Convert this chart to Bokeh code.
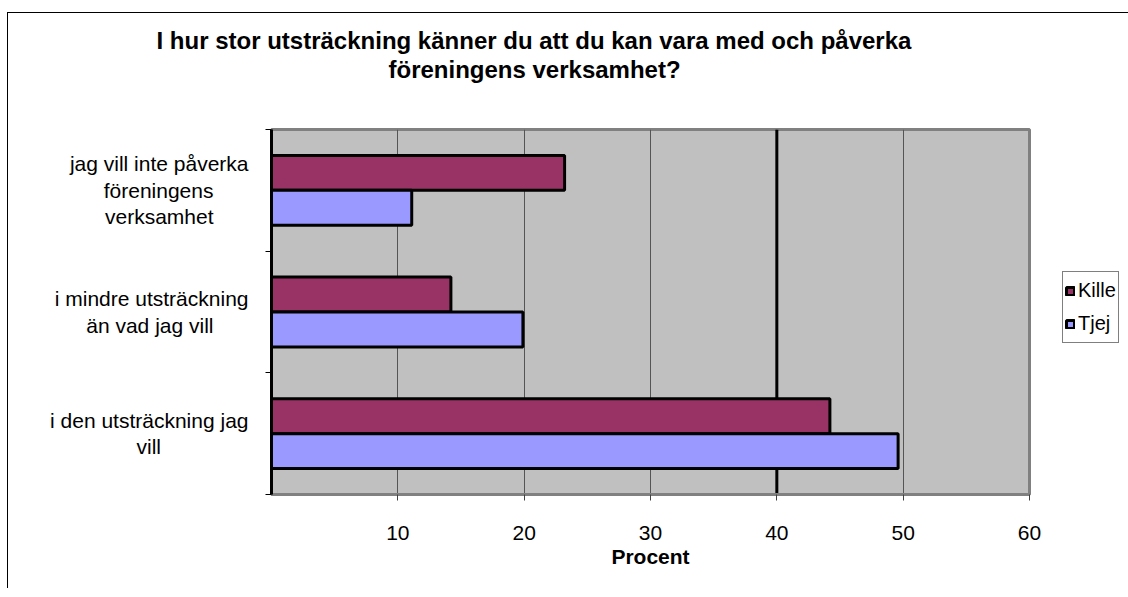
from bokeh.plotting import figure
from bokeh.models import (ColumnDataSource, Range1d, FixedTicker, Legend, LegendItem,
                          Span, Title)
from bokeh.transform import dodge
from bokeh.embed import file_html
from bokeh.resources import INLINE

# ---- data ----
categories = ["i den utsträckning jag\nvill",
              "i mindre utsträckning\nän vad jag vill",
              "jag vill inte påverka\nföreningens\nverksamhet"]
kille = [44.2, 14.2, 23.2]
tjej = [49.6, 19.9, 11.1]
series_names = ["Kille", "Tjej"]
x_ticks = [10, 20, 30, 40, 50, 60]
title_lines = ["I hur stor utsträckning känner du att du kan vara med och påverka",
               "föreningens verksamhet?"]
x_label = "Procent"

# ---- layout helpers (visual centering of multi-line tick labels) ----
NBSP = "\u00a0"
line_pads = [[0, 15], [0, 6], [0, 6, 6]]   # trailing non-breaking spaces per line


def centered(label, pads):
    return "\n".join(ln + NBSP * n for ln, n in zip(label.split("\n"), pads))


pos = [i + 0.5 for i in range(len(categories))]
src = ColumnDataSource(dict(y=pos, kille=kille, tjej=tjej))

FONT = "Liberation Sans"

p = figure(frame_width=758, frame_height=365, output_backend="svg", toolbar_location=None,
           x_range=Range1d(0, 60), y_range=Range1d(0, len(categories)),
           min_border_left=263, min_border_top=116, min_border_right=90,
           min_border_bottom=94)
# chart-area border: white gap outside, thin black line on the left and top
p.styles = {"border-left": "7px solid white", "border-top": "12px solid white",
            "padding-left": "1px", "padding-top": "1px",
            "box-shadow": "inset 1px 1px 0 0 black"}
p.background_fill_color = "#C0C0C0"
p.border_fill_color = "white"
p.outline_line_color = "#808080"
p.outline_line_width = 3

# grid
p.ygrid.grid_line_color = None
p.xgrid.ticker = FixedTicker(ticks=x_ticks)
p.xgrid.grid_line_color = "#555555"
p.xgrid.grid_line_width = 1
p.add_layout(Span(location=40, dimension="height", line_color="black", line_width=3,
                  level="underlay"))

bh = 0.287
rk = p.hbar(y=dodge("y", 0.1435, range=p.y_range), right="kille", left=0, height=bh,
            source=src, fill_color="#993366", line_color="black", line_width=3)
rt = p.hbar(y=dodge("y", -0.1435, range=p.y_range), right="tjej", left=0, height=bh,
            source=src, fill_color="#9999FF", line_color="black", line_width=3)

# x axis
xa = p.xaxis[0]
xa.ticker = FixedTicker(ticks=x_ticks)
xa.axis_line_color = "#808080"
xa.axis_line_width = 3
xa.major_tick_line_color = "#404040"
xa.major_tick_out = 6
xa.major_tick_in = 0
xa.minor_tick_line_color = None
xa.major_label_standoff = 25
xa.major_label_text_font = FONT
xa.major_label_text_font_size = "21px"
xa.major_label_text_color = "black"
xa.axis_label = x_label
xa.axis_label_text_font = FONT
xa.axis_label_text_font_size = "21px"
xa.axis_label_text_font_style = "bold"
xa.axis_label_text_color = "black"
xa.axis_label_standoff = 2

# y axis
ya = p.yaxis[0]
ya.ticker = FixedTicker(ticks=pos, minor_ticks=[0, 1, 2, 3])
ya.major_label_overrides = {v: centered(c, pd) for v, c, pd in zip(pos, categories, line_pads)}
ya.axis_line_color = "black"
ya.axis_line_width = 3
ya.major_tick_line_color = None
ya.major_tick_out = 0
ya.major_tick_in = 0
ya.minor_tick_line_color = "black"
ya.minor_tick_line_width = 1
ya.minor_tick_out = 6
ya.minor_tick_in = 0
ya.major_label_standoff = 17
ya.major_label_text_font = FONT
ya.major_label_text_font_size = "21px"
ya.major_label_text_color = "black"
ya.major_label_text_line_height = 1.15

# title (two lines, each centred on the same point left of the frame centre)
spacer = Title(text=" ", text_font_size="10px", standoff=34)
t2 = Title(text=title_lines[1], align="left", offset=117, standoff=0, text_color="black",
           text_font=FONT, text_font_size="24px", text_font_style="bold")
t1 = Title(text=title_lines[0], align="left", offset=-115, standoff=0, text_color="black",
           text_font=FONT, text_font_size="24px", text_font_style="bold")
p.add_layout(spacer, "above")
p.add_layout(t2, "above")
p.add_layout(t1, "above")

# legend
legend = Legend(items=[LegendItem(label=series_names[0], renderers=[rk]),
                       LegendItem(label=series_names[1], renderers=[rt])],
                location=(33, 151), orientation="vertical",
                glyph_width=10, glyph_height=10, label_standoff=3,
                label_text_font=FONT, label_text_font_size="20px", label_height=33,
                label_text_color="black",
                spacing=0, padding=2, margin=0,
                border_line_color="black", border_line_width=1,
                background_fill_color="white")
p.add_layout(legend, "right")

open("out.html", "w").write(file_html(p, INLINE))
